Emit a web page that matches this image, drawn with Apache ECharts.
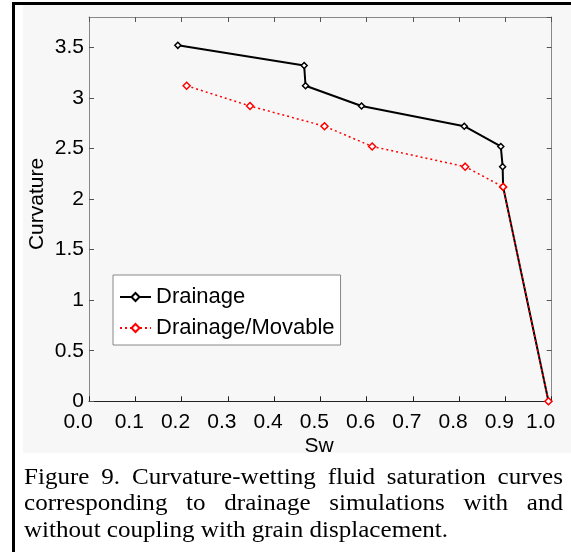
<!DOCTYPE html>
<html>
<head>
<meta charset="utf-8">
<script src="https://cdn.jsdelivr.net/npm/echarts@6/dist/echarts.min.js"></script>
<style>
html,body{margin:0;padding:0;background:#fff;}
#chart{width:571px;height:552px;}
</style>
</head>
<body>
<div id="chart"></div>
<script>
// ---- data ----
var drainageSw = [0.192, 0.465, 0.468, 0.589, 0.811, 0.890, 0.894, 0.895, 0.993];
var drainageCurv = [3.52, 3.32, 3.12, 2.92, 2.72, 2.52, 2.32, 2.12, 0];
var movableSw = [0.211, 0.348, 0.509, 0.612, 0.813, 0.895, 0.993];
var movableCurv = [3.12, 2.92, 2.72, 2.52, 2.32, 2.12, 0];
var seriesNames = ['Drainage', 'Drainage/Movable'];
var xTickLabels = ['0.0','0.1','0.2','0.3','0.4','0.5','0.6','0.7','0.8','0.9','1.0'];
var xAxisTitle = 'Sw';
var yAxisTitle = 'Curvature';
var captionLines = [
  'Figure 9. Curvature-wetting fluid saturation curves',
  'corresponding to drainage simulations with and',
  'without coupling with grain displacement.'
];

function pairs(xs, ys) { return xs.map(function (x, i) { return [x, ys[i]]; }); }

var chart = echarts.init(document.getElementById('chart'), null, {renderer: 'canvas'});

var FONT = '"Liberation Sans", Arial, Helvetica, sans-serif';
var SERIF = '"Liberation Serif", "Times New Roman", serif';

// caption words laid out with justification (text is horizontally stretched like the source)
var measureCtx = document.createElement('canvas').getContext('2d');
var capSize = 23, capScaleX = 1.09;
measureCtx.font = capSize + 'px ' + SERIF;
var capLeft = 24, capRight = 563;
var capBaselines = [485, 511.7, 538];
var captionEls = [];
captionLines.forEach(function (line, li) {
  var words = line.split(' ');
  var widths = words.map(function (w) { return measureCtx.measureText(w).width * capScaleX; });
  var total = widths.reduce(function (a, b) { return a + b; }, 0);
  var gap = (li < captionLines.length - 1) ? (capRight - capLeft - total) / (words.length - 1) : measureCtx.measureText(' ').width * capScaleX;
  var x = capLeft;
  words.forEach(function (w, wi) {
    captionEls.push({
      type: 'text', x: x, y: capBaselines[li] - 7.5, scaleX: capScaleX, silent: true,
      style: {text: w, x: 0, y: 0, fill: '#000', font: capSize + 'px ' + SERIF, verticalAlign: 'middle', align: 'left'}
    });
    x += widths[wi] + gap;
  });
});

var option = {
  backgroundColor: '#fff',
  animation: false,
  grid: {left: 89, right: 19.3, top: 17, bottom: 150.7, containLabel: false},
  legend: {
    orient: 'vertical', left: 113, top: 275,
    padding: [11, 6, 6, 6], itemGap: 9, itemWidth: 31, itemHeight: 10,
    backgroundColor: '#fff', borderColor: '#888', borderWidth: 1, borderRadius: 0,
    textStyle: {fontSize: 22, fontFamily: FONT, color: '#000', lineHeight: 22},
    data: seriesNames
  },
  xAxis: [{
    type: 'value', min: 0, max: 1, interval: 0.1, position: 'bottom',
    axisLine: {onZero: false, lineStyle: {color: '#222', width: 1}},
    axisTick: {inside: true, length: 5, lineStyle: {color: '#222'}},
    splitLine: {show: false},
    axisLabel: {
      margin: 10, color: '#000', fontSize: 21, fontFamily: FONT,
      formatter: function (v) {
        var i = Math.round(v * 10);
        var t = xTickLabels[i];
        return (i === 0 || i === 10) ? '{e|' + t + '}' : '{m|' + t + '}';
      },
      rich: {
        e: {fontSize: 21, fontFamily: FONT, color: '#000', padding: [0, 22, 0, 0]},
        m: {fontSize: 21, fontFamily: FONT, color: '#000', padding: [0, 12, 0, 0]}
      }
    }
  }, {
    type: 'value', min: 0, max: 1, interval: 0.1, position: 'top',
    axisLine: {onZero: false, lineStyle: {color: '#888', width: 1}},
    axisTick: {inside: true, length: 5, lineStyle: {color: '#555'}},
    axisLabel: {show: false}, splitLine: {show: false}
  }],
  yAxis: [{
    type: 'value', min: 0, max: 3.8, interval: 0.5, position: 'left',
    axisLine: {show: true, onZero: false, lineStyle: {color: '#888', width: 1}},
    axisTick: {show: true, inside: true, length: 5, lineStyle: {color: '#555'}},
    splitLine: {show: false},
    axisLabel: {margin: 5, color: '#000', fontSize: 21, fontFamily: FONT, showMaxLabel: false,
      formatter: function (v) { return String(v); }}
  }, {
    type: 'value', min: 0, max: 3.8, interval: 0.5, position: 'right',
    axisLine: {show: true, onZero: false, lineStyle: {color: '#888', width: 1}},
    axisTick: {show: true, inside: true, length: 5, lineStyle: {color: '#555'}},
    axisLabel: {show: false}, splitLine: {show: false}
  }],
  series: [{
    name: seriesNames[0], type: 'line', xAxisIndex: 0, yAxisIndex: 0,
    data: pairs(drainageSw, drainageCurv),
    symbol: 'diamond', symbolSize: 6, showAllSymbol: true,
    lineStyle: {color: '#000', width: 2, type: 'solid'},
    itemStyle: {color: '#fff', borderColor: '#000', borderWidth: 1.5},
    emphasis: {disabled: true}, z: 3
  }, {
    name: seriesNames[1], type: 'line', xAxisIndex: 0, yAxisIndex: 0,
    data: pairs(movableSw, movableCurv),
    symbol: 'diamond', symbolSize: 7, showAllSymbol: true,
    lineStyle: {color: '#ff0000', width: 1.5, type: [2, 3]},
    itemStyle: {color: '#fff', borderColor: '#ff0000', borderWidth: 1.5},
    emphasis: {disabled: true}, z: 4
  }],
  graphic: {elements: [
    {type: 'rect', shape: {x: 23, y: 5, width: 548, height: 448}, style: {fill: '#f7f7f7'}, z: -10, silent: true},
    {type: 'line', shape: {x1: 13.5, y1: 2, x2: 13.5, y2: 552}, style: {stroke: '#000', lineWidth: 3}, silent: true},
    {type: 'line', shape: {x1: 12, y1: 3.5, x2: 571, y2: 3.5}, style: {stroke: '#000', lineWidth: 3}, silent: true},
    {type: 'text', x: 319, y: 446, silent: true,
      style: {text: xAxisTitle, fill: '#000', font: '21px ' + FONT, align: 'center', verticalAlign: 'middle'}},
    {type: 'text', x: 37, y: 204, rotation: Math.PI / 2, silent: true,
      style: {text: yAxisTitle, fill: '#000', font: '21px ' + FONT, align: 'center', verticalAlign: 'middle'}}
  ].concat(captionEls)}
};
chart.setOption(option);
</script>
</body>
</html>
